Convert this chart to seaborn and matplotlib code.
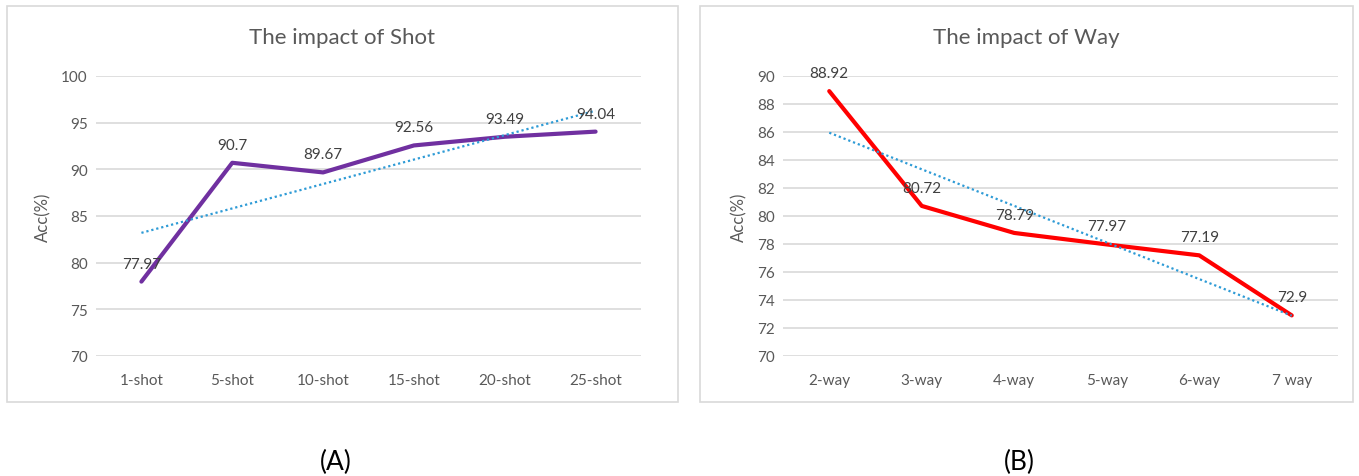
import numpy as np
import pandas as pd
import matplotlib
matplotlib.use("Agg")
import matplotlib.pyplot as plt
from matplotlib.patches import Rectangle
import seaborn as sns

# Accuracy vs. number of shots
shot_labels = ["1-shot", "5-shot", "10-shot", "15-shot", "20-shot", "25-shot"]
shot_acc = [77.97, 90.7, 89.67, 92.56, 93.49, 94.04]

# Accuracy vs. number of ways
way_labels = ["2-way", "3-way", "4-way", "5-way", "6-way", "7 way"]
way_acc = [88.92, 80.72, 78.79, 77.97, 77.19, 72.9]

sns.set_theme(style="white")
plt.rcParams["font.family"] = ["Lato", "DejaVu Sans"]

TXT = "#595959"
GRID = "#D9D9D9"
TREND = "#2E9BD6"

W, H = 1359, 477
fig = plt.figure(figsize=(W / 100, H / 100), dpi=100)


def fx(px):
    return px / W


def fy(py):
    return 1 - py / H


def panel(box, axrect, title, labels, values, color, yticks, caption):
    bx0, by0, bx1, by1 = box
    fig.patches.append(Rectangle((fx(bx0), fy(by1)), fx(bx1 - bx0), (by1 - by0) / H,
                                 transform=fig.transFigure, fill=False,
                                 edgecolor=GRID, linewidth=1.2))
    ax0, ay0, ax1, ay1 = axrect
    ax = fig.add_axes([fx(ax0), fy(ay1), fx(ax1 - ax0), (ay1 - ay0) / H])
    df = pd.DataFrame({"idx": np.arange(len(labels)), "acc": values})

    sns.lineplot(data=df, x="idx", y="acc", color=color, linewidth=3.0,
                 sort=False, ax=ax, solid_capstyle="round", solid_joinstyle="round")
    sns.regplot(data=df, x="idx", y="acc", scatter=False, ci=None, ax=ax,
                line_kws=dict(color=TREND, linewidth=1.6, linestyle=(0, (1, 1.3))))

    for i, v in enumerate(values):
        ax.annotate(f"{v:g}", (i, v), xytext=(0, 8), textcoords="offset points",
                    ha="center", va="bottom", fontsize=11, color="#404040")

    ax.set_xlim(-0.5, len(labels) - 0.5)
    ax.set_ylim(yticks[0], yticks[-1])
    ax.set_yticks(yticks)
    ax.set_xticks(range(len(labels)))
    ax.set_xticklabels(labels)
    ax.tick_params(axis="both", colors=TXT, labelsize=11, length=0, pad=6)
    ax.tick_params(axis="x", pad=12)
    ax.grid(axis="y", color=GRID, linewidth=1.2)
    ax.set_axisbelow(True)
    for s in ax.spines.values():
        s.set_visible(False)
    ax.set_xlabel("")
    ax.set_ylabel("Acc(%)", color=TXT, fontsize=12, labelpad=7)
    ax.patch.set_alpha(0)

    cx = fx((bx0 + bx1) / 2)
    fig.text(cx, fy(38), title, ha="center", va="center", fontsize=16, color=TXT)
    fig.text(cx - fx(7), fy(462), caption, ha="center", va="center", fontsize=19, color="black")
    return ax


panel((7, 7, 678, 403), (96, 77, 641, 357), "The impact of Shot",
      shot_labels, shot_acc, "#7030A0", list(range(70, 101, 5)), "(A)")
panel((700, 7, 1353, 403), (783, 77, 1338, 357), "The impact of Way",
      way_labels, way_acc, "#FF0000", list(range(70, 91, 2)), "(B)")

fig.savefig("out.png", dpi=100, facecolor="white")
